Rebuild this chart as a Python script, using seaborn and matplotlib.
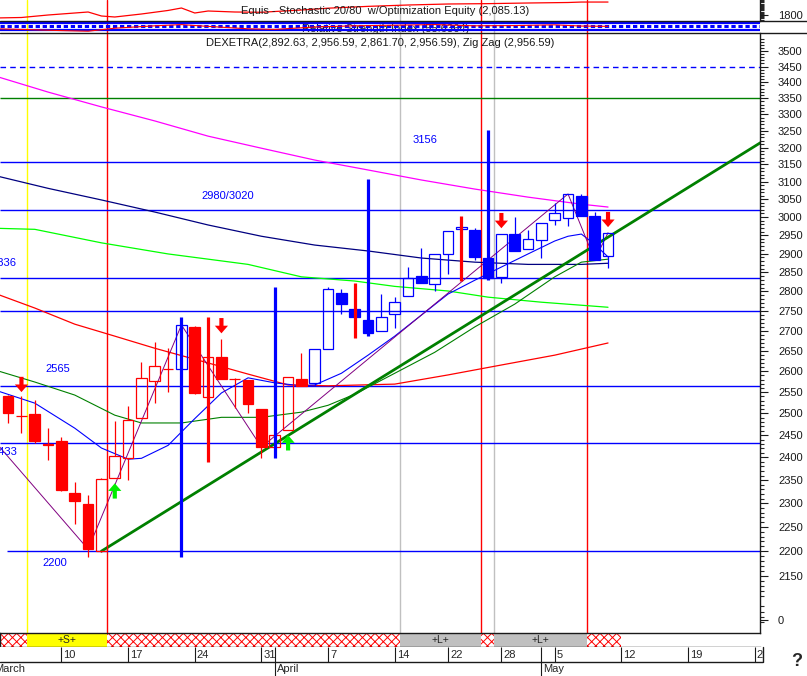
import numpy as np
import pandas as pd
import seaborn as sns
import matplotlib.pyplot as plt
from matplotlib.ticker import NullFormatter

# trading day index: 0 = Mon 10 March, holidays skipped (Good Friday, Easter Monday, 1 May)
days = list(range(-4, 42))
opens = [2540, 2494, 2498, 2429, 2436, 2322, 2298, 2200, 2354, 2399, 2489, 2576, 2605, 2605,
         2709, 2538, 2634, 2581, 2579, 2510, 2423, 2462, 2581, 2571, 2654, 2796, 2754, 2726,
         2698, 2741, 2788, 2840, 2819, 2899, 2967, 2964, 2889, 2838, 2953, 2912, 2937, 2991,
         2997, 3059, 3003, 2892.63]
highs = [2542, 2540, 2531, 2466, 2446, 2346, 2317, 2355, 2482, 2517, 2622, 2671, 2656, 2714,
         2712, 2634, 2678, 2583, 2579, 2510, 2450, 2586, 2644, 2654, 2811, 2806, 2754, 2726,
         2793, 2785, 2864, 2915, 2899, 2961, 2972, 2969, 2889, 2953, 3000, 2964, 2983, 3039,
         3065, 3065, 3014, 2956.59]
lows = [2478, 2455, 2432, 2394, 2326, 2256, 2188, 2198, 2354, 2350, 2489, 2524, 2550, 2605,
        2545, 2538, 2581, 2512, 2501, 2399, 2423, 2462, 2564, 2564, 2654, 2741, 2734, 2693,
        2698, 2706, 2788, 2822, 2801, 2845, 2967, 2883, 2835, 2822, 2907, 2912, 2889, 2978,
        2975, 3003, 2883, 2861.70]
closes = [2501, 2494, 2436, 2427, 2328, 2305, 2204, 2352, 2403, 2484, 2583, 2612, 2605, 2714,
          2548, 2634, 2581, 2581, 2521, 2423, 2450, 2586, 2564, 2654, 2806, 2767, 2734, 2693,
          2734, 2772, 2835, 2822, 2899, 2961, 2972, 2891, 2835, 2953, 2907, 2939, 2983, 3011,
          3065, 3003, 2883, 2956.59]
candle_col = ['r'] * 13 + ['b'] + ['r'] * 9 + ['b'] * 23

# tall outlier bars
spike_x = [9, 11, 16, 22, 23, 30, 32]
spike_lo = [2188, 2389, 2399, 2681, 2686, 2827, 2829]
spike_hi = [2734, 2734, 2811, 2821, 3107, 3002, 3252]
spike_col = ['b', 'r', 'b', 'r', 'b', 'r', 'b']

# signal arrows (tip price)
arrow_x = [-3, 12, 33, 41, 4, 17]
arrow_tip = [2550, 2693, 2969, 2972, 2343, 2450]
arrow_dir = ['down', 'down', 'down', 'down', 'up', 'up']

# moving averages
mag_x = [-5, -1, 3, 7, 11, 15, 19, 23, 27, 31, 35, 39, 41]
mag_y = [3420, 3369, 3323, 3280, 3234, 3198, 3163, 3134, 3105, 3079, 3056, 3036, 3028]
navy_x = [-5, -1, 3, 7, 11, 15, 19, 23, 27, 31, 35, 39, 41]
navy_y = [3118, 3081, 3048, 3014, 2978, 2947, 2923, 2907, 2888, 2877, 2871, 2871, 2874]
lime_x = [-5, -2, 3, 8, 11, 14, 18, 22, 25, 29, 32, 36, 41]
lime_y = [2969, 2966, 2929, 2899, 2885, 2871, 2838, 2827, 2813, 2801, 2785, 2772, 2759]
redma_x = [-5, -2, 1, 4, 7, 11, 14, 17, 20, 25, 29, 33, 37, 41]
redma_y = [2795, 2757, 2716, 2686, 2656, 2620, 2593, 2567, 2565, 2569, 2591, 2615, 2639, 2669]
green_x = [-5, -2, 1, 4, 6, 9, 12, 15, 18, 20, 22, 25, 28, 31, 34, 37, 39, 41]
green_y = [2603, 2574, 2543, 2496, 2478, 2478, 2491, 2491, 2503, 2519, 2545, 2595, 2646, 2709,
           2767, 2838, 2877, 2885]
blue_x = [-5, -2, 1, 3, 5, 6, 8, 10, 12, 14, 16, 18, 19, 21, 23, 25, 27, 29, 31, 33, 35, 37,
          38, 39, 40, 41]
blue_y = [2555, 2524, 2466, 2421, 2396, 2398, 2427, 2488, 2548, 2584, 2572, 2565, 2567, 2595,
          2639, 2686, 2739, 2793, 2829, 2864, 2899, 2934, 2947, 2953, 2925, 2891]
zz_x = [-5, 2, 9, 15, 38, 40, 41]
zz_y = [2436, 2204, 2714, 2423, 3065, 2883, 2956.59]
trend_x = [3, 52.5]
trend_y = [2200, 3216]

levels = [3450, 3350, 3156, 3020, 2836, 2750, 2565, 2433, 2200]
level_labels = ['3156', '2980/3020', '2836', '2565', '2433', '2200']

# equity and RSI panels
eq_x = [-5, -3, -1, 0, 2, 3, 4, 6, 8, 9, 10, 11, 13, 15, 18, 20, 23, 26, 29, 32, 35, 38, 39, 41]
eq_y = [1734, 1745, 1800, 1822, 1866, 1778, 1756, 1822, 1900, 1954, 1844, 1888, 1866, 1860,
        1910, 1950, 1990, 2020, 2042, 2050, 2064, 2075, 2085, 2085]
rsi_x = [-5, -3, 0, 2, 4, 7, 9, 11, 14, 16, 19, 22, 25, 28, 31, 34, 37, 39, 41]
rsi_y = [35, 30, 20, 15, 40, 60, 70, 55, 35, 30, 50, 60, 65, 70, 60, 62, 68, 58, 55.6]

# signal bar
seg_start = [-4.7, -2.6, 3.4, 25.4, 31.45, 32.45, 39.4]
seg_end = [-2.6, 3.4, 25.4, 31.45, 32.45, 39.4, 42.0]
seg_kind = ['x', 'S', 'x', 'L', 'x', 'L', 'x']
signal_x = [-2.6, 3.4, 25.4, 31.45, 32.45, 39.4]
signal_col = ['#ffff00', '#ff0000', '#c0c0c0', '#ff0000', '#c0c0c0', '#ff0000']

# date axis
tick_days = [0, 5, 10, 15, 20, 25, 29, 33, 37, 42, 47, 52]
tick_text = ['10', '17', '24', '31', '7', '14', '22', '28', '5', '12', '19', '26']
month_days = [16, 36]
month_text = ['March', 'April', 'May']

sns.set_theme(style='white')
plt.rcParams['font.family'] = ['Liberation Sans', 'DejaVu Sans']
plt.rcParams['hatch.linewidth'] = 0.7

W, H = 807, 676
XL = (-4.61, 52.4)


def rect(x0, y0, x1, y1):
    return [x0 / W, 1 - y1 / H, (x1 - x0) / W, (y1 - y0) / H]


fig = plt.figure(figsize=(W / 100, H / 100), dpi=100)
fig.patch.set_facecolor('white')
ax_eq = fig.add_axes(rect(0, 0, 760, 21))
ax_rsi = fig.add_axes(rect(0, 21, 760, 33))
ax = fig.add_axes(rect(0, 33, 760, 633))
ax_band = fig.add_axes(rect(0, 633, 760, 647))
ax_date = fig.add_axes(rect(0, 647, 763, 676))

for a in [ax_eq, ax_rsi, ax, ax_band, ax_date]:
    a.set_xlim(XL)
    a.set_xticks([])
    for s in a.spines.values():
        s.set_visible(False)
ax_date.set_xlim(XL[0], 52.63)

BLUE, RED = '#0000ff', '#ff0000'
cmap = {'r': RED, 'b': BLUE}

# ---- equity panel
sns.lineplot(x=eq_x, y=eq_y, ax=ax_eq, color=RED, lw=0.9)
ax_eq.set_ylim(1668, 2130)
ax_eq.yaxis.tick_right()
ax_eq.set_yticks([1800])
ax_eq.set_yticks(list(range(1700, 2130, 25)), minor=True)
ax_eq.tick_params(axis='y', which='major', length=6, width=0.8, pad=7, labelsize=8, colors='k', right=True)
ax_eq.tick_params(axis='y', which='minor', length=3, width=0.8, right=True)
ax_eq.spines['right'].set_visible(True)
ax_eq.spines['right'].set_color('k')
ax_eq.spines['right'].set_linewidth(1)
ax_eq.text(0.507, 0.48, 'Equis - Stochastic 20/80  w/Optimization Equity (2,085.13)',
           transform=ax_eq.transAxes, ha='center', va='center', fontsize=8, color='k')
ax_eq.set_xlabel('')
ax_eq.set_ylabel('')

# ---- RSI strip
ax_rsi.set_ylim(0, 100)
ax_rsi.set_yticks([])
ax_rsi.text(0.507, 0.3, 'Relative Strength Index (55.6364)', transform=ax_rsi.transAxes,
            ha='center', va='center', fontsize=8, color='k', zorder=1)
ax_rsi.axhline(86, color=BLUE, lw=1.6, zorder=2)
ax_rsi.axhline(58, color=BLUE, lw=2.2, ls=(0, (1.4, 0.9)), zorder=2)
ax_rsi.axhline(26, color=BLUE, lw=1.6, zorder=2)
sns.lineplot(x=rsi_x, y=rsi_y, ax=ax_rsi, color=RED, lw=0.8, zorder=3)
ax_rsi.set_xlabel('')
ax_rsi.set_ylabel('')

# ---- main price panel
ax.set_yscale('log')
ax.set_ylim(2039, 3559)

for v, c in zip(signal_x, signal_col):
    for a in [ax_eq, ax_rsi, ax]:
        a.axvline(v, color=c, lw=1, zorder=0.5)

for lv in levels:
    if lv == 3450:
        ax.hlines(lv, XL[0], XL[1], color=BLUE, lw=1, ls=(0, (4, 3)), zorder=1)
    elif lv == 3350:
        ax.hlines(lv, XL[0], XL[1], color='#008000', lw=1, zorder=1)
    elif lv == 2200:
        ax.hlines(lv, -4.1, XL[1], color=BLUE, lw=1, zorder=1)
    else:
        ax.hlines(lv, XL[0], XL[1], color=BLUE, lw=1, zorder=1)

label_pos = [(27.3, 3222, 'center'), (12.5, 3059, 'center'), (-3.41, 2874, 'right'),
             (-0.26, 2605, 'center'), (-3.34, 2412, 'right'), (-0.49, 2176, 'center')]
for txt, (px, py, ha) in zip(level_labels, label_pos):
    ax.text(px, py, txt, color=BLUE, fontsize=8, ha=ha, va='center', zorder=6)

sns.lineplot(x=mag_x, y=mag_y, ax=ax, color='#ff00ff', lw=0.9, zorder=2)
sns.lineplot(x=navy_x, y=navy_y, ax=ax, color='#000080', lw=0.9, zorder=2)
sns.lineplot(x=lime_x, y=lime_y, ax=ax, color='#00ff00', lw=0.9, zorder=2)
sns.lineplot(x=redma_x, y=redma_y, ax=ax, color=RED, lw=0.9, zorder=2)
sns.lineplot(x=green_x, y=green_y, ax=ax, color='#008000', lw=0.8, zorder=2)
sns.lineplot(x=blue_x, y=blue_y, ax=ax, color=BLUE, lw=0.8, zorder=2)
sns.lineplot(x=zz_x, y=zz_y, ax=ax, color='#800080', lw=0.7, zorder=2)
sns.lineplot(x=trend_x, y=trend_y, ax=ax, color='#008000', lw=2.0, zorder=2.5)

o = np.array(opens, float)
c = np.array(closes, float)
hi = np.array(highs, float)
lo = np.array(lows, float)
btop = np.maximum(o, c)
bbot = np.minimum(o, c)
cols = [cmap[k] for k in candle_col]
ax.vlines(days, btop, hi, colors=cols, lw=0.9, zorder=3)
ax.vlines(days, lo, bbot, colors=cols, lw=0.9, zorder=3)
faces = [col if cc < oo else 'none' for col, oo, cc in zip(cols, o, c)]
ax.bar(days, btop - bbot, bottom=bbot, width=0.8, color=faces, edgecolor=cols,
       linewidth=0.9, zorder=4)
ax.vlines(spike_x, spike_lo, spike_hi, colors=[cmap[k] for k in spike_col], lw=2.3, zorder=5)

for ax_i, tip, d in zip(arrow_x, arrow_tip, arrow_dir):
    col = RED if d == 'down' else '#00ee00'
    off = 11 if d == 'down' else -11
    ax.annotate('', xy=(ax_i, tip), xytext=(0, off), textcoords='offset points',
                arrowprops=dict(facecolor=col, edgecolor='none', width=3, headwidth=9.5,
                                headlength=5.5, shrink=0), zorder=6)

ax.text(0.5, 0.983, 'DEXETRA(2,892.63, 2,956.59, 2,861.70, 2,956.59), Zig Zag (2,956.59)',
        transform=ax.transAxes, ha='center', va='center', fontsize=8, color='k', zorder=7)

ax0 = ax.twinx()
ax0.set_ylim(-1, 45)
ax0.set_yticks([0])
ax0.set_yticklabels(['0'])
ax0.tick_params(axis='y', length=6, width=0.8, pad=7, labelsize=8, colors='k')
for s in ax0.spines.values():
    s.set_visible(False)

majors = list(range(2150, 3501, 50))
minors = [v for v in range(2050, 3560, 10) if v % 50 != 0]
ax.yaxis.tick_right()
ax.set_yticks(majors)
ax.set_yticklabels([str(v) for v in majors])
ax.set_yticks(minors, minor=True)
ax.yaxis.set_minor_formatter(NullFormatter())
ax.tick_params(axis='y', which='major', length=6, width=0.8, pad=7, labelsize=8, colors='k',
               right=True, left=False, labelright=True, labelleft=False)
ax.tick_params(axis='y', which='minor', length=3, width=0.8, right=True, left=False)
ax.spines['right'].set_visible(True)
ax.spines['right'].set_color('k')
ax.spines['right'].set_linewidth(1)
ax.set_xlabel('')
ax.set_ylabel('')
ax.set_xlim(XL)

# ---- signal bar
for s0, s1, k in zip(seg_start, seg_end, seg_kind):
    if k == 'x':
        ax_band.bar(s0, 1, width=s1 - s0, bottom=0, align='edge', facecolor='white',
                    edgecolor=RED, hatch='xxxx', linewidth=0)
    else:
        fc = '#ffff00' if k == 'S' else '#c0c0c0'
        ax_band.bar(s0, 1, width=s1 - s0, bottom=0, align='edge', facecolor=fc,
                    edgecolor='none', linewidth=0)
        ax_band.text((s0 + s1) / 2, 0.5, '+%s+' % k, ha='center', va='center', fontsize=7.5)
ax_band.set_ylim(0, 1)
ax_band.set_yticks([])
for side in ['top', 'bottom', 'left']:
    ax_band.spines[side].set_visible(True)
    ax_band.spines[side].set_color('k')
    ax_band.spines[side].set_linewidth(1)

# ---- date axis
ax_date.set_ylim(0, 2)
ax_date.set_yticks([])
ax_date.axhline(1, color='k', lw=1)
ax_date.vlines(tick_days, 1, 2, color='k', lw=0.8)
for d, t in zip(tick_days, tick_text):
    ax_date.text(d + 0.15, 1.48, t, ha='left', va='center', fontsize=8, clip_on=True)
ax_date.vlines(month_days, 0, 2, color='k', lw=0.8)
for d, t in zip([-5.06] + [m + 0.15 for m in month_days], month_text):
    ax_date.text(d, 0.45, t, ha='left', va='center', fontsize=8, clip_on=True)
ax_date.plot([1, 1], [0.5, 1], transform=ax_date.transAxes, color='k', lw=1, clip_on=False)

# panel separators
for yy in [21, 33]:
    fig.add_artist(plt.Line2D([0, 1], [1 - yy / H, 1 - yy / H], color='k', lw=1))
fig.text(797 / W, 1 - 662 / H, '?', fontsize=13, fontweight='bold', ha='center', va='center')

fig.savefig('out.png', dpi=100)
